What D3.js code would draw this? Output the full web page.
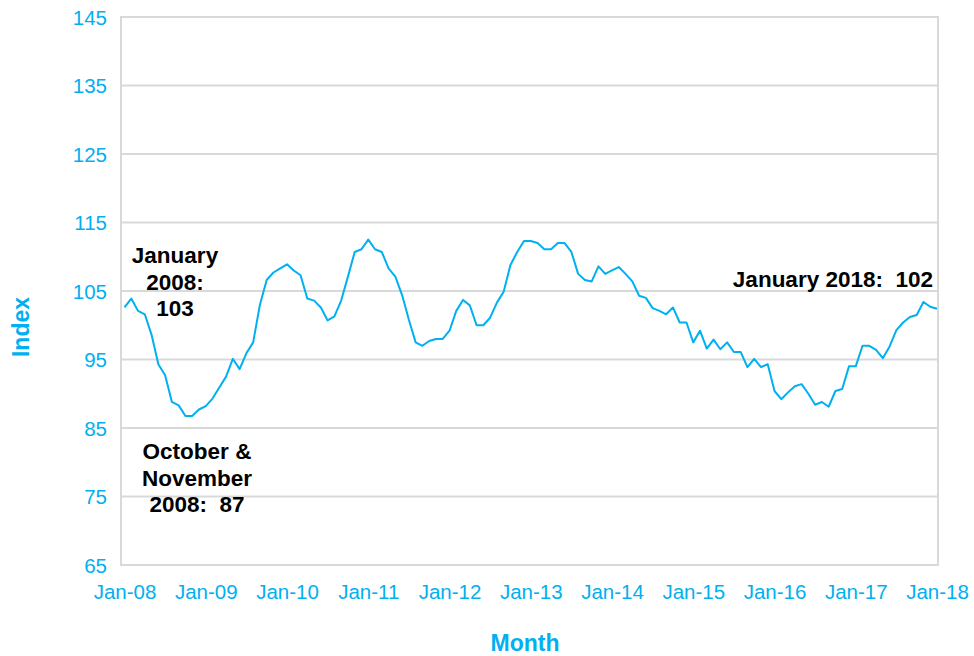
<!DOCTYPE html>
<html>
<head>
<meta charset="utf-8">
<script src="https://cdn.jsdelivr.net/npm/d3@7"></script>
<style>
  html, body { margin: 0; padding: 0; background: #fff; }
  svg { display: block; font-family: "Liberation Sans", Arial, sans-serif; }
</style>
</head>
<body>
<svg id="chart" width="974" height="656"></svg>
<script>
// ---- data ----
const years = ["08","09","10","11","12","13","14","15","16","17","18"];
const xTickLabels = years.map(y => "Jan-" + y);
const yTicks = [65, 75, 85, 95, 105, 115, 125, 135, 145];
const values = [
  // 2008
  102.6, 103.9, 102.1, 101.6, 98.6, 94.3, 92.7, 88.8, 88.3, 86.75, 86.75, 87.7,
  // 2009
  88.2, 89.3, 90.9, 92.5, 95.1, 93.6, 95.9, 97.5, 103.0, 106.6, 107.7, 108.3,
  // 2010
  108.9, 108.0, 107.3, 103.9, 103.6, 102.6, 100.7, 101.3, 103.6, 107.1, 110.7, 111.1,
  // 2011
  112.5, 111.1, 110.7, 108.3, 107.1, 104.4, 100.8, 97.5, 97.0, 97.7, 98.0, 98.0,
  // 2012
  99.2, 102.1, 103.7, 102.9, 100.0, 100.0, 101.1, 103.3, 104.9, 108.8, 110.7, 112.3,
  // 2013
  112.3, 112.0, 111.1, 111.1, 112.0, 112.0, 110.7, 107.5, 106.6, 106.4, 108.6, 107.5,
  // 2014
  108.0, 108.5, 107.5, 106.4, 104.3, 104.0, 102.5, 102.1, 101.6, 102.6, 100.4, 100.4,
  // 2015
  97.5, 99.2, 96.6, 97.9, 96.5, 97.5, 96.1, 96.1, 93.9, 95.1, 93.9, 94.3,
  // 2016
  90.4, 89.2, 90.2, 91.1, 91.4, 90.0, 88.4, 88.8, 88.1, 90.4, 90.7, 94.0,
  // 2017
  94.0, 97.0, 97.0, 96.4, 95.2, 96.9, 99.3, 100.4, 101.2, 101.5, 103.4, 102.7,
  // 2018
  102.4
];
const annotations = [
  { lines: ["January", "2008:", "103"], idx: 0, anchor: "middle" },
  { lines: ["October &", "November", "2008:  87"], idx: 9, anchor: "middle" },
  { lines: ["January 2018:  102"], idx: 120, anchor: "end" }
];

// ---- layout ----
const blue = "#00B0F0";
const plot = { left: 121, right: 938, top: 17, bottom: 565 };
const svg = d3.select("#chart");

const x = d3.scaleLinear().domain([0, values.length - 1]).range([124.5, 937]);
const y = d3.scaleLinear().domain([65, 145]).range([plot.bottom, plot.top]);

// gridlines
svg.append("g")
  .selectAll("line")
  .data(yTicks)
  .join("line")
  .attr("x1", plot.left).attr("x2", plot.right)
  .attr("y1", d => y(d)).attr("y2", d => y(d))
  .attr("stroke", "#d9d9d9").attr("stroke-width", 2);

// plot border
svg.append("rect")
  .attr("x", plot.left).attr("y", plot.top)
  .attr("width", plot.right - plot.left).attr("height", plot.bottom - plot.top)
  .attr("fill", "none").attr("stroke", "#d9d9d9").attr("stroke-width", 2);

// y axis
const yAxis = d3.axisLeft(y).tickValues(yTicks).tickSize(0).tickPadding(0);
const yg = svg.append("g").attr("transform", `translate(${plot.left - 14},0)`).call(yAxis);
yg.select(".domain").remove();
yg.selectAll("text").attr("fill", blue).attr("font-size", "20.5px")
  .attr("font-family", "Liberation Sans, Arial, sans-serif").attr("dy", "0.35em");

// x axis
const xTickIdx = years.map((d, i) => i * 12);
const xAxis = d3.axisBottom(x).tickValues(xTickIdx).tickFormat((d, i) => xTickLabels[i]).tickSize(0).tickPadding(0);
const xg = svg.append("g").attr("transform", `translate(0,${plot.bottom + 19})`).call(xAxis);
xg.select(".domain").remove();
xg.selectAll("text").attr("fill", blue).attr("font-size", "20.5px")
  .attr("font-family", "Liberation Sans, Arial, sans-serif").attr("dy", "0.71em");

// line
const line = d3.line().x((d, i) => x(i)).y(d => y(d));
svg.append("path").datum(values)
  .attr("d", line).attr("fill", "none")
  .attr("stroke", blue).attr("stroke-width", 2).attr("stroke-linejoin", "round");

// axis titles
svg.append("text").attr("x", 525).attr("y", 651)
  .attr("text-anchor", "middle").attr("fill", blue)
  .attr("font-weight", "bold").attr("font-size", "23px").text("Month");
svg.append("text").attr("transform", "translate(29,327) rotate(-90)")
  .attr("text-anchor", "middle").attr("fill", blue)
  .attr("font-weight", "bold").attr("font-size", "23px").text("Index");

// annotations
const annPos = [
  { cx: 175, by: 263 },
  { cx: 197, by: 459 },
  { cx: 933, by: 287 }
];
annotations.forEach((a, k) => {
  const t = svg.append("text")
    .attr("text-anchor", a.anchor).attr("fill", "#000")
    .attr("font-weight", "bold").attr("font-size", "22.5px");
  a.lines.forEach((ln, j) => {
    t.append("tspan").attr("x", annPos[k].cx).attr("y", annPos[k].by + j * 26.5)
      .attr("xml:space", "preserve").style("white-space", "pre").text(ln);
  });
});
</script>
</body>
</html>
